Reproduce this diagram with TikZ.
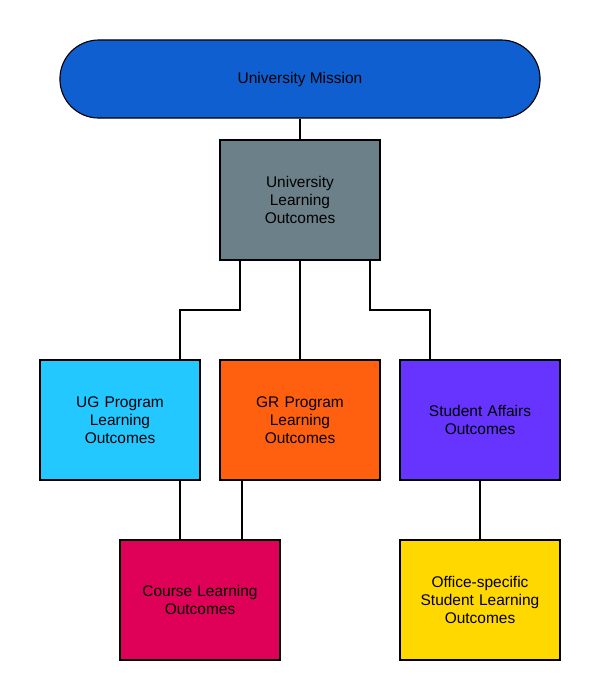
\documentclass[tikz,border=0pt]{standalone}
\usepackage{fontspec}
\setmainfont{Liberation Sans}
\usetikzlibrary{positioning}
\definecolor{missionblue}{HTML}{0F5FD0}
\definecolor{slate}{HTML}{6B8088}
\definecolor{skyblue}{HTML}{22C8FF}
\definecolor{flame}{HTML}{FF6010}
\definecolor{violet}{HTML}{6633FF}
\definecolor{crimson}{HTML}{DF0058}
\definecolor{gold}{HTML}{FFD800}
\tikzset{
  box/.style={rectangle, draw, thick, minimum width=4cm, minimum height=3cm, text width=3.6cm, align=center, font=\fontsize{11}{13}\selectfont, inner sep=0pt},
  link/.style={thick},
}
\begin{document}
\begin{tikzpicture}[x=0.025cm, y=-0.025cm]
  \useasboundingbox (0,0) rectangle (600,700);
  \node[rectangle, draw, thick, fill=missionblue, rounded corners=0.97cm, minimum width=12cm, minimum height=1.95cm, font=\fontsize{11}{13}\selectfont] (mission) at (300,79) {University Mission};
  \node[box, fill=slate] (ulo) at (300,200) {University\\Learning\\Outcomes};
  \node[box, fill=skyblue] (ug) at (120,420) {UG Program\\Learning\\Outcomes};
  \node[box, fill=flame] (gr) at (300,420) {GR Program\\Learning\\Outcomes};
  \node[box, fill=violet] (sa) at (480,420) {Student Affairs\\Outcomes};
  \node[box, fill=crimson] (course) at (200,600) {Course Learning\\Outcomes};
  \node[box, fill=gold] (office) at (480,600) {Office-specific\\Student Learning\\Outcomes};

  \draw[link] (mission) -- (ulo);
  \draw[link] (ulo.south -| 240,0) |- (180,310) -- (ug.north -| 180,0);
  \draw[link] (ulo) -- (gr);
  \draw[link] (ulo.south -| 370,0) |- (430,310) -- (sa.north -| 430,0);
  \draw[link] (ug.south -| 180,0) -- (course.north -| 180,0);
  \draw[link] (gr.south -| 242,0) -- (course.north -| 242,0);
  \draw[link] (sa) -- (office);
\end{tikzpicture}
\end{document}
